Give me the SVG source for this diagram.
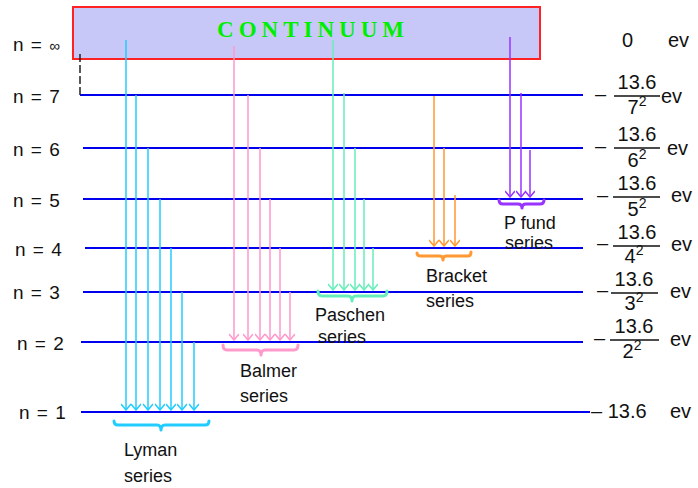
<svg xmlns="http://www.w3.org/2000/svg" width="698" height="488" viewBox="0 0 698 488">
  <style>
    .lbl { font-family: "Liberation Sans", Arial, sans-serif; font-size: 18px; fill: #111; }
    .lvl { font-family: "Liberation Sans", Arial, sans-serif; font-size: 19px; fill: #111; word-spacing: 2px; }
    .num { font-family: "Liberation Sans", Arial, sans-serif; font-size: 20px; fill: #111; }
    .sup { font-size: 14px; }
    .level { stroke: #0000ee; stroke-width: 2; fill: none; }
    .bar { stroke: #111; stroke-width: 1.5; }
    .ly { stroke: #22ccff; fill: none; stroke-width: 1.5; }
    .ba { stroke: #ff99cc; fill: none; stroke-width: 1.5; }
    .pa { stroke: #66eebb; fill: none; stroke-width: 1.5; }
    .br { stroke: #ff9933; fill: none; stroke-width: 1.5; }
    .pf { stroke: #9933ff; fill: none; stroke-width: 1.5; }
    .brace { fill: none; stroke-width: 3; stroke-linejoin: round; stroke-linecap: round; }
  </style>
  <defs>
    <marker id="hLy" markerWidth="10" markerHeight="10" refX="5" refY="9" markerUnits="userSpaceOnUse" viewBox="0 0 10 10">
      <polyline points="0,3 5,9 10,3" fill="none" stroke="#22ccff" stroke-width="1.5"/>
    </marker>
    <marker id="hBa" markerWidth="10" markerHeight="10" refX="5" refY="9" markerUnits="userSpaceOnUse" viewBox="0 0 10 10">
      <polyline points="0,3 5,9 10,3" fill="none" stroke="#ff99cc" stroke-width="1.5"/>
    </marker>
    <marker id="hPa" markerWidth="10" markerHeight="10" refX="5" refY="9" markerUnits="userSpaceOnUse" viewBox="0 0 10 10">
      <polyline points="0,3 5,9 10,3" fill="none" stroke="#66eebb" stroke-width="1.5"/>
    </marker>
    <marker id="hBr" markerWidth="10" markerHeight="10" refX="5" refY="9" markerUnits="userSpaceOnUse" viewBox="0 0 10 10">
      <polyline points="0,3 5,9 10,3" fill="none" stroke="#ff9933" stroke-width="1.5"/>
    </marker>
    <marker id="hPf" markerWidth="10" markerHeight="10" refX="5" refY="9" markerUnits="userSpaceOnUse" viewBox="0 0 10 10">
      <polyline points="0,3 5,9 10,3" fill="none" stroke="#9933ff" stroke-width="1.5"/>
    </marker>
  </defs>

  <rect width="698" height="488" fill="#ffffff"/>

  <!-- continuum band -->
  <g id="continuum">
    <rect x="73" y="7" width="467" height="52" fill="#c8c8f8" stroke="#ff2222" stroke-width="2"/>
    <text x="313" y="37" text-anchor="middle" font-family="Liberation Serif, serif" font-weight="bold" font-size="23" letter-spacing="5" fill="#00ee00">CONTINUUM</text>
  </g>

  <!-- energy levels -->
  <g id="levels">
    <line class="level" x1="80" y1="95" x2="583" y2="95"/>
    <line x1="80" y1="54" x2="80" y2="95" stroke="#222" stroke-width="1.5" stroke-dasharray="8,3"/>
    <line class="level" x1="83" y1="148" x2="583" y2="148"/>
    <line class="level" x1="83" y1="199" x2="583" y2="199"/>
    <line class="level" x1="85" y1="248" x2="583" y2="248"/>
    <line class="level" x1="83" y1="292" x2="583" y2="292"/>
    <line class="level" x1="81" y1="342" x2="583" y2="342"/>
    <line class="level" x1="81" y1="412" x2="590" y2="412"/>
  </g>

  <!-- level names -->
  <g id="level-names" class="lvl">
    <text x="13" y="51">n = <tspan font-size="15">∞</tspan></text>
    <text x="13" y="103">n = 7</text>
    <text x="13" y="156">n = 6</text>
    <text x="13" y="207">n = 5</text>
    <text x="15" y="256">n = 4</text>
    <text x="13" y="299">n = 3</text>
    <text x="17" y="350">n = 2</text>
    <text x="19" y="419">n = 1</text>
  </g>

  <!-- energies -->
  <g id="energies" class="num">
    <text x="622" y="47">0</text>
    <text x="668" y="47">ev</text>

    <text x="595" y="101">–</text>
    <text x="637" y="89" text-anchor="middle">13.6</text>
    <line class="bar" x1="614" y1="96" x2="660" y2="96"/>
    <text x="637" y="114" text-anchor="middle">7<tspan class="sup" dy="-8">2</tspan></text>
    <text x="661" y="103">ev</text>

    <text x="595" y="153">–</text>
    <text x="637" y="141" text-anchor="middle">13.6</text>
    <line class="bar" x1="614" y1="148" x2="660" y2="148"/>
    <text x="637" y="167" text-anchor="middle">6<tspan class="sup" dy="-8">2</tspan></text>
    <text x="667" y="155">ev</text>

    <text x="597" y="202">–</text>
    <text x="637" y="190" text-anchor="middle">13.6</text>
    <line class="bar" x1="613" y1="197" x2="660" y2="197"/>
    <text x="637" y="216" text-anchor="middle">5<tspan class="sup" dy="-8">2</tspan></text>
    <text x="671" y="202">ev</text>

    <text x="597" y="250">–</text>
    <text x="637" y="239" text-anchor="middle">13.6</text>
    <line class="bar" x1="613" y1="246" x2="660" y2="246"/>
    <text x="634" y="263" text-anchor="middle">4<tspan class="sup" dy="-8">2</tspan></text>
    <text x="671" y="251">ev</text>

    <text x="597" y="297">–</text>
    <text x="634" y="286" text-anchor="middle">13.6</text>
    <line class="bar" x1="611" y1="293" x2="658" y2="293"/>
    <text x="634" y="310" text-anchor="middle">3<tspan class="sup" dy="-8">2</tspan></text>
    <text x="670" y="298">ev</text>

    <text x="594" y="345">–</text>
    <text x="634" y="333" text-anchor="middle">13.6</text>
    <line class="bar" x1="610" y1="340" x2="659" y2="340"/>
    <text x="632" y="358" text-anchor="middle">2<tspan class="sup" dy="-8">2</tspan></text>
    <text x="670" y="346">ev</text>

    <text x="591" y="418">– 13.6</text>
    <text x="670" y="418">ev</text>
  </g>

  <!-- transition arrows -->
  <g id="connectors">
    <g id="lyman-arrows" class="ly">
      <line x1="126" y1="40" x2="126" y2="410" marker-end="url(#hLy)"/>
      <line x1="136" y1="95" x2="136" y2="410" marker-end="url(#hLy)"/>
      <line x1="148" y1="148" x2="148" y2="410" marker-end="url(#hLy)"/>
      <line x1="160" y1="199" x2="160" y2="410" marker-end="url(#hLy)"/>
      <line x1="171" y1="248" x2="171" y2="410" marker-end="url(#hLy)"/>
      <line x1="182" y1="292" x2="182" y2="410" marker-end="url(#hLy)"/>
      <line x1="194" y1="342" x2="194" y2="410" marker-end="url(#hLy)"/>
    </g>
    <g id="balmer-arrows" class="ba">
      <line x1="234" y1="46" x2="234" y2="340" marker-end="url(#hBa)"/>
      <line x1="248" y1="95" x2="248" y2="340" marker-end="url(#hBa)"/>
      <line x1="260" y1="148" x2="260" y2="340" marker-end="url(#hBa)"/>
      <line x1="270" y1="199" x2="270" y2="340" marker-end="url(#hBa)"/>
      <line x1="280" y1="248" x2="280" y2="340" marker-end="url(#hBa)"/>
      <line x1="290" y1="292" x2="290" y2="340" marker-end="url(#hBa)"/>
    </g>
    <g id="paschen-arrows" class="pa">
      <line x1="333" y1="40" x2="333" y2="290" marker-end="url(#hPa)"/>
      <line x1="344" y1="93" x2="344" y2="290" marker-end="url(#hPa)"/>
      <line x1="355" y1="148" x2="355" y2="290" marker-end="url(#hPa)"/>
      <line x1="364" y1="199" x2="364" y2="290" marker-end="url(#hPa)"/>
      <line x1="373" y1="248" x2="373" y2="290" marker-end="url(#hPa)"/>
    </g>
    <g id="bracket-arrows" class="br">
      <line x1="434" y1="96" x2="434" y2="246" marker-end="url(#hBr)"/>
      <line x1="444" y1="148" x2="444" y2="246" marker-end="url(#hBr)"/>
      <line x1="455" y1="195" x2="455" y2="246" marker-end="url(#hBr)"/>
    </g>
    <g id="pfund-arrows" class="pf">
      <line x1="510" y1="37" x2="510" y2="197" marker-end="url(#hPf)"/>
      <line x1="521" y1="93" x2="521" y2="197" marker-end="url(#hPf)"/>
      <line x1="530" y1="150" x2="530" y2="197" marker-end="url(#hPf)"/>
    </g>
  </g>

  <!-- series groups -->
  <g id="lyman">
    <path class="brace" stroke="#22ccff" d="M114,421 Q114,425 118,425 H157 Q161,425 161,430 Q161,425 165,425 H205 Q209,425 209,421"/>
    <text class="lbl" x="124" y="456">Lyman</text>
    <text class="lbl" x="124" y="482">series</text>
  </g>
  <g id="balmer">
    <path class="brace" stroke="#ff99cc" d="M223,345 Q223,350 227,350 H257 Q261,350 261,355 Q261,350 265,350 H294 Q298,350 298,345"/>
    <text class="lbl" x="240" y="377">Balmer</text>
    <text class="lbl" x="240" y="402">series</text>
  </g>
  <g id="paschen">
    <path class="brace" stroke="#66eebb" d="M318,291 Q318,296 322,296 H348 Q352,296 352,301 Q352,296 356,296 H383 Q387,296 387,291"/>
    <text class="lbl" x="315" y="321">Paschen</text>
    <text class="lbl" x="318" y="343">series</text>
  </g>
  <g id="bracket">
    <path class="brace" stroke="#ff9933" d="M417,253 Q417,256 421,256 H440 Q443,256 443,260 Q443,256 446,256 H468 Q471,256 471,252"/>
    <text class="lbl" x="426" y="282">Bracket</text>
    <text class="lbl" x="426" y="307">series</text>
  </g>
  <g id="pfund">
    <path class="brace" stroke="#9933ff" d="M499,200 Q499,204 503,204 H518 Q522,204 522,208 Q522,204 526,204 H540 Q544,204 544,200"/>
    <text class="lbl" x="504" y="229">P fund</text>
    <text class="lbl" x="505" y="249">series</text>
  </g>
</svg>
